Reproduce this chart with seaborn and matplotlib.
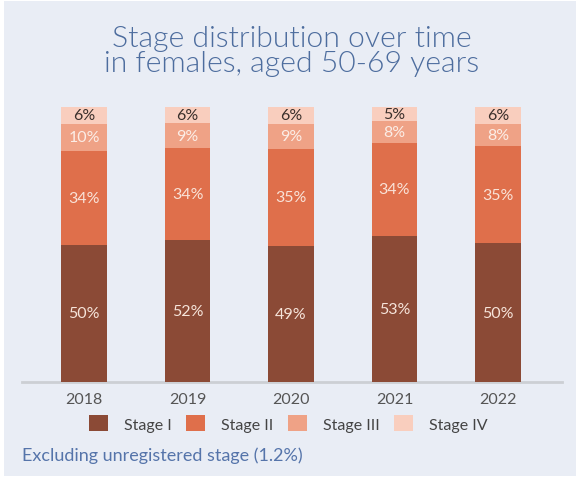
import matplotlib
matplotlib.use("Agg")
import matplotlib.pyplot as plt
import numpy as np
import pandas as pd
import seaborn as sns
from matplotlib.patches import Patch, Rectangle

sns.set_theme(style="white")
plt.rcParams["font.family"] = ["Lato", "DejaVu Sans"]

years = ["2018", "2019", "2020", "2021", "2022"]
stages = ["Stage I", "Stage II", "Stage III", "Stage IV"]
stage_1 = [50, 52, 49, 53, 50]
stage_2 = [34, 34, 35, 34, 35]
stage_3 = [10, 9, 9, 8, 8]
stage_4 = [6, 6, 6, 5, 6]

colors = ["#8B4A36", "#DF6F4B", "#EFA286", "#F9CEBE"]
label_colors = ["#F6E4DA", "#F9E3D8", "#FBEDE6", "#3A2F2B"]
BG = "#E9EDF5"

df = pd.DataFrame({
    "year": years,
    "Stage I": stage_1,
    "Stage II": stage_2,
    "Stage III": stage_3,
    "Stage IV": stage_4,
})
# rounded shares don't always add to 100, so rescale the stack
share = df[stages].div(df[stages].sum(axis=1), axis=0) * 100
cum = share.cumsum(axis=1)

fig = plt.figure(figsize=(5.8, 4.81), dpi=100, facecolor="white")
fig.patches.append(Rectangle((4 / 580, 4 / 481), 572 / 580, 475 / 481,
                             transform=fig.transFigure, facecolor=BG,
                             edgecolor="none", zorder=-5))
ax = fig.add_axes([22 / 580, 98 / 481, 540 / 580, 275 / 481])
ax.set_zorder(2)
ax.set_facecolor("none")

# stack by drawing cumulative totals, tallest first
for i in range(len(stages) - 1, -1, -1):
    sns.barplot(x=df["year"], y=cum[stages[i]], color=colors[i], width=0.44,
                saturation=1, linewidth=0, ax=ax, zorder=2, clip_on=False)

for j in range(len(years)):
    for i, st in enumerate(stages):
        mid = cum.loc[j, st] - share.loc[j, st] / 2
        ax.text(j, mid, f"{df.loc[j, st]}%", ha="center", va="center",
                fontsize=11.5, color=label_colors[i], zorder=3)

ax.set_xlim(-0.6, 4.62)
ax.set_ylim(0, 100)
ax.set_xlabel("")
ax.set_ylabel("")
ax.set_yticks([])
sns.despine(ax=ax, left=True, top=True, right=True)
ax.spines["bottom"].set_color("#CCCFD4")
ax.spines["bottom"].set_linewidth(2)
ax.spines["bottom"].set_zorder(1)
ax.tick_params(axis="x", length=0, labelsize=11.5, labelcolor="#555555", pad=7)

fig.text(0.503, 0.893, "Stage distribution over time\nin females, aged 50-69 years",
         ha="center", va="center", fontsize=21.7, color="#4D6D9E",
         fontweight=300, linespacing=0.92)

handles = [Patch(facecolor=c, edgecolor="none") for c in colors]
fig.legend(handles, stages, loc="center", bbox_to_anchor=(0.497, 0.118), ncol=4,
           frameon=False, fontsize=11.5, handlelength=1.2, handleheight=1.2,
           columnspacing=0.9, handletextpad=1.0, labelcolor="#444444")

fig.text(22 / 580, 0.053, "Excluding unregistered stage (1.2%)", ha="left",
         va="center", fontsize=13, color="#5574AA")

fig.savefig("out.png", dpi=100, facecolor="white")
